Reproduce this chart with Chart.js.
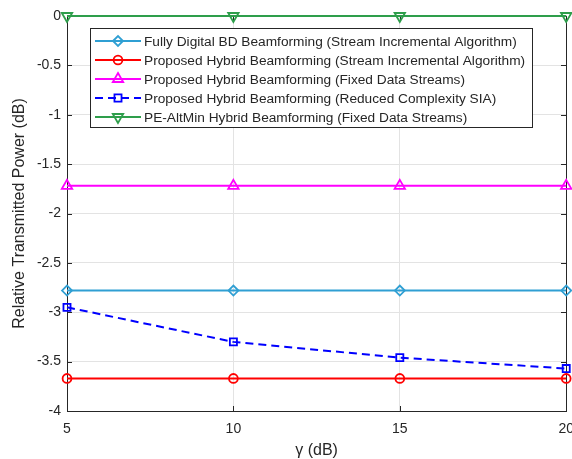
<!DOCTYPE html>
<html>
<head>
<meta charset="utf-8">
<script src="https://cdn.jsdelivr.net/npm/chart.js@4.4.1/dist/chart.umd.min.js"></script>
<style>
  html, body { margin: 0; padding: 0; background: #fff; overflow: hidden; }
  /* canvas a bit wider than the window so the last x label gets cut like the original */
  #powerChart { display: block; }
</style>
</head>
<body>
<canvas id="powerChart" width="576" height="459"></canvas>
<script>
// data
const gammaDb = [5, 10, 15, 20];
const xTicks = [5, 10, 15, 20];
const yTicks = [0, -0.5, -1, -1.5, -2, -2.5, -3, -3.5, -4];

const fullyDigital = [-2.78, -2.78, -2.78, -2.78];
const hybridSia = [-3.67, -3.67, -3.67, -3.67];
const hybridFixed = [-1.72, -1.72, -1.72, -1.72];
const hybridReduced = [-2.95, -3.30, -3.46, -3.57];
const peAltMin = [0, 0, 0, 0];

const seriesNames = [
  'Fully Digital BD Beamforming (Stream Incremental Algorithm)',
  'Proposed Hybrid Beamforming (Stream Incremental Algorithm)',
  'Proposed Hybrid Beamforming (Fixed Data Streams)',
  'Proposed Hybrid Beamforming (Reduced Complexity SIA)',
  'PE-AltMin Hybrid Beamforming (Fixed Data Streams)'
];

const FONT = "'Liberation Sans', Arial, sans-serif";
const AXIS = '#262626';

function toPoints(ys) {
  return gammaDb.map((x, i) => ({ x: x, y: ys[i] }));
}

function makeSet(label, ys, color, style, radius, extra) {
  return Object.assign({
    label: label,
    data: toPoints(ys),
    borderColor: color,
    backgroundColor: color,
    borderWidth: 2,
    pointStyle: style,
    pointRadius: radius,
    pointHoverRadius: radius,
    pointBorderColor: color,
    pointBackgroundColor: 'rgba(0,0,0,0)',
    pointBorderWidth: 1.8,
    tension: 0,
    clip: false
  }, extra || {});
}

const datasets = [
  makeSet(seriesNames[0], fullyDigital, '#2f9fd3', 'rectRot', 5),
  makeSet(seriesNames[1], hybridSia, '#ff0000', 'circle', 4.4),
  makeSet(seriesNames[2], hybridFixed, '#ff00ff', 'triangle', 6),
  makeSet(seriesNames[3], hybridReduced, '#0000ff', 'rect', 5, { borderDash: [8, 5] }),
  makeSet(seriesNames[4], peAltMin, '#2e9e4b', 'triangle', 6, { pointRotation: 180 })
];

// MATLAB-style box with inward ticks
const boxPlugin = {
  id: 'boxPlugin',
  beforeDatasetsDraw(chart) {
    const { ctx, chartArea: a, scales } = chart;
    const l = Math.round(a.left), t = Math.round(a.top);
    const r = Math.round(a.right), b = Math.round(a.bottom);
    ctx.save();
    ctx.strokeStyle = AXIS;
    ctx.lineWidth = 1;
    ctx.strokeRect(l + 0.5, t + 0.5, r - l, b - t);
    ctx.beginPath();
    xTicks.forEach(v => {
      const px = Math.round(scales.x.getPixelForValue(v)) + 0.5;
      ctx.moveTo(px, b); ctx.lineTo(px, b - 5);
      ctx.moveTo(px, t); ctx.lineTo(px, t + 5);
    });
    yTicks.forEach(v => {
      const py = Math.round(scales.y.getPixelForValue(v)) + 0.5;
      ctx.moveTo(l, py); ctx.lineTo(l + 5, py);
      ctx.moveTo(r, py); ctx.lineTo(r - 5, py);
    });
    ctx.stroke();
    ctx.restore();
  }
};

// legend drawn inside the plot like the MATLAB one
const boxLegend = {
  id: 'boxLegend',
  afterDraw(chart) {
    const { ctx } = chart;
    const left = 90, top = 28, width = 442, rowH = 19;
    const height = rowH * chart.data.datasets.length + 4;
    ctx.save();
    ctx.fillStyle = '#fff';
    ctx.fillRect(left, top, width, height);
    ctx.strokeStyle = AXIS;
    ctx.lineWidth = 1;
    ctx.strokeRect(left + 0.5, top + 0.5, width, height);
    ctx.font = '13.7px ' + FONT;
    ctx.textBaseline = 'middle';
    chart.data.datasets.forEach((ds, i) => {
      const y = top + 13 + i * rowH;
      ctx.strokeStyle = ds.borderColor;
      ctx.lineWidth = ds.borderWidth;
      ctx.setLineDash(ds.borderDash || []);
      ctx.beginPath();
      ctx.moveTo(left + 5, y);
      ctx.lineTo(left + 51, y);
      ctx.stroke();
      ctx.setLineDash([]);
      ctx.lineWidth = ds.pointBorderWidth;
      ctx.fillStyle = 'rgba(0,0,0,0)';
      Chart.helpers.drawPoint(ctx, {
        pointStyle: ds.pointStyle,
        radius: ds.pointRadius,
        rotation: ds.pointRotation || 0,
        borderWidth: ds.pointBorderWidth
      }, left + 28, y);
      ctx.fillStyle = AXIS;
      ctx.fillText(ds.label, left + 54, y + 1);
    });
    ctx.restore();
  }
};

const ctx = document.getElementById('powerChart').getContext('2d');

new Chart(ctx, {
  type: 'line',
  data: { datasets: datasets },
  options: {
    responsive: false,
    animation: false,
    events: [],
    layout: { padding: { top: 16, right: 0, left: 0, bottom: 0 } },
    plugins: {
      legend: { display: false },
      tooltip: { enabled: false }
    },
    scales: {
      x: {
        type: 'linear',
        min: 5,
        max: 20,
        afterBuildTicks: s => { s.ticks = xTicks.map(v => ({ value: v })); },
        afterFit: s => { s.height = 48; },
        grid: { color: '#e3e3e3', drawTicks: true, tickLength: 8, tickColor: 'rgba(0,0,0,0)' },
        border: { display: false },
        ticks: { color: AXIS, padding: 2, font: { family: FONT, size: 14 }, maxRotation: 0 },
        title: {
          display: true,
          text: 'γ (dB)',
          color: AXIS,
          font: { family: FONT, size: 16 },
          padding: { top: 0, bottom: -1 }
        }
      },
      y: {
        min: -4,
        max: 0,
        afterBuildTicks: s => { s.ticks = yTicks.map(v => ({ value: v })); },
        afterFit: s => { s.width = 67; },
        grid: { color: '#e3e3e3', drawTicks: false },
        border: { display: false },
        ticks: {
          color: AXIS,
          padding: 6,
          font: { family: FONT, size: 14 },
          callback: v => (v === 0 ? '0' : String(v))
        },
        title: {
          display: true,
          text: 'Relative Transmitted Power (dB)',
          color: AXIS,
          font: { family: FONT, size: 16 },
          padding: { top: 10, bottom: 4 }
        }
      }
    }
  },
  plugins: [boxPlugin, boxLegend]
});
</script>
</body>
</html>
